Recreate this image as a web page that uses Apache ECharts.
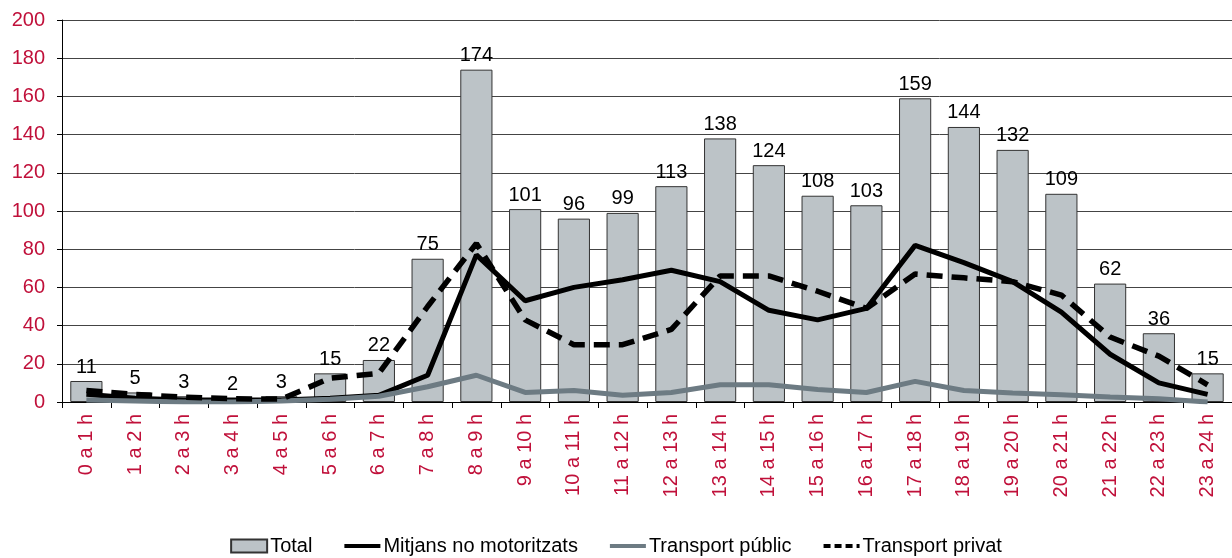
<!DOCTYPE html>
<html>
<head>
<meta charset="utf-8">
<script src="https://cdn.jsdelivr.net/npm/echarts@6/dist/echarts.min.js"></script>
<style>
  html, body { margin: 0; padding: 0; background: #fff; }
</style>
</head>
<body>
<div id="main" style="width: 1232px; height: 558px"></div>
<script>
  // franges horàries
  var hours = ["0 a 1 h", "1 a 2 h", "2 a 3 h", "3 a 4 h", "4 a 5 h", "5 a 6 h", "6 a 7 h", "7 a 8 h",
    "8 a 9 h", "9 a 10 h", "10 a 11 h", "11 a 12 h", "12 a 13 h", "13 a 14 h", "14 a 15 h", "15 a 16 h",
    "16 a 17 h", "17 a 18 h", "18 a 19 h", "19 a 20 h", "20 a 21 h", "21 a 22 h", "22 a 23 h", "23 a 24 h"];
  var total = [11, 5, 3, 2, 3, 15, 22, 75, 174, 101, 96, 99, 113, 138, 124, 108, 103, 159, 144, 132, 109, 62, 36, 15];
  var noMotor = [4, 2, 1, 1, 1, 2, 3.5, 14, 77, 53, 60, 64, 69, 63, 48, 43, 49, 82, 73, 63, 47, 25, 10, 4];
  var public_ = [1, 0.5, 0, 0, 0.5, 1.5, 3, 8, 14, 5, 6, 3.5, 5, 9, 9, 6.5, 5, 10.8, 6, 4.7, 3.8, 2.6, 1.7, 0];
  var privat = [6, 4, 2.5, 1.7, 1.5, 12.5, 15, 50, 83, 43, 30, 30, 38, 66, 66, 58, 49, 67, 65, 63, 56, 34, 24, 9];
  var yTicks = [0, 20, 40, 60, 80, 100, 120, 140, 160, 180, 200];

  var red = "#c0103a";
  var myChart = echarts.init(document.getElementById("main"));

  // icona de llegenda sense símbol per a les línies
  function lineLegend(name, dashed) {
    return {
      name: name,
      itemStyle: { opacity: 0 },
      lineStyle: { width: 4, type: dashed ? [7, 4] : "solid" }
    };
  }

  var option = {
    animation: false,
    textStyle: { fontFamily: "Liberation Sans" },
    grid: { left: 62, right: -6, top: 20, bottom: 156 },
    legend: {
      bottom: -3,
      left: "center",
      itemWidth: 36,
      itemHeight: 13,
      itemGap: 30,
      textStyle: { fontSize: 20, color: "#000", padding: [0, 0, 0, -2] },
      data: [
        { name: "Total", icon: "rect" },
        lineLegend("Mitjans no motoritzats"),
        lineLegend("Transport públic"),
        lineLegend("Transport privat", true)
      ]
    },
    xAxis: {
      type: "category",
      data: hours,
      axisLine: { lineStyle: { color: "#000", width: 1 } },
      axisTick: { show: true, length: 6, lineStyle: { color: "#000" } },
      axisLabel: { rotate: 90, color: red, fontSize: 20, margin: 12, interval: 0 }
    },
    yAxis: {
      type: "value",
      min: yTicks[0],
      max: yTicks[yTicks.length - 1],
      interval: 20,
      axisLine: { show: true, lineStyle: { color: "#000", width: 1 } },
      axisTick: { show: true, length: 5, lineStyle: { color: "#000" } },
      axisLabel: { color: red, fontSize: 20, margin: 17 },
      splitLine: { lineStyle: { color: "#444", width: 1 } }
    },
    series: [
      {
        name: "Total",
        type: "bar",
        data: total,
        barCategoryGap: "34%",
        itemStyle: { color: "#bcc3c7", borderColor: "#333", borderWidth: 1 },
        label: { show: true, position: "top", color: "#000", fontSize: 20, distance: 4 }
      },
      {
        name: "Mitjans no motoritzats",
        type: "line",
        data: noMotor,
        symbol: "none",
        itemStyle: { color: "#000" },
        lineStyle: { color: "#000", width: 5 }
      },
      {
        name: "Transport públic",
        type: "line",
        data: public_,
        symbol: "none",
        itemStyle: { color: "#6d7b83" },
        lineStyle: { color: "#6d7b83", width: 5 }
      },
      {
        name: "Transport privat",
        type: "line",
        data: privat,
        symbol: "none",
        itemStyle: { color: "#000" },
        lineStyle: { color: "#000", width: 5.5, type: [16, 9] }
      }
    ]
  };

  myChart.setOption(option);
</script>
</body>
</html>
